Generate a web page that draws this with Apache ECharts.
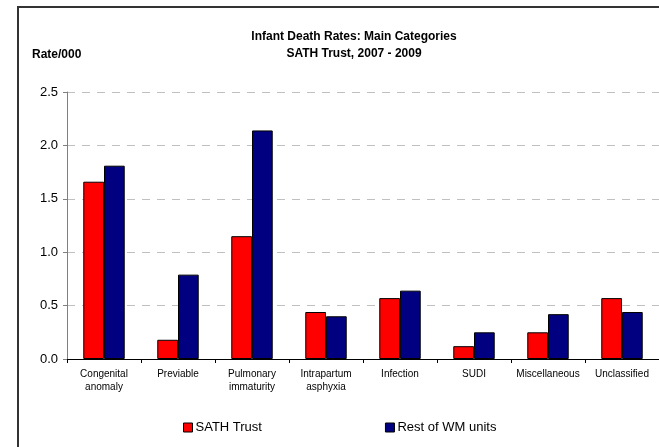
<!DOCTYPE html>
<html>
<head>
<meta charset="utf-8">
<script src="https://cdn.jsdelivr.net/npm/echarts@6/dist/echarts.min.js"></script>
<style>
  html, body { margin: 0; padding: 0; background: #fff; }
  #chart { width: 659px; height: 447px; }
</style>
</head>
<body>
<div id="chart"></div>
<script>
// categories and rates per 1000
var categories = ['Congenital\nanomaly', 'Previable', 'Pulmonary\nimmaturity', 'Intrapartum\nasphyxia',
  'Infection', 'SUDI', 'Miscellaneous', 'Unclassified']
var sathTrust = [1.66, 0.18, 1.15, 0.44, 0.57, 0.12, 0.25, 0.57]
var restOfWm = [1.81, 0.79, 2.14, 0.40, 0.64, 0.25, 0.42, 0.44]
var seriesNames = ['SATH Trust', 'Rest of WM units']

var chart = echarts.init(document.getElementById('chart'))
var font = 'Liberation Sans, Arial, sans-serif'

chart.setOption({
  animation: false,
  backgroundColor: '#fff',
  graphic: [
    {
      type: 'rect',
      z: -1,
      shape: { x: 18, y: 7, width: 700, height: 500 },
      style: { fill: 'none', stroke: '#333', lineWidth: 2 }
    }
  ],
  title: [
    {
      text: 'Infant Death Rates: Main Categories\nSATH Trust, 2007 - 2009',
      left: 349,
      top: 23,
      textAlign: 'center',
      textStyle: { fontFamily: font, fontSize: 12, fontWeight: 'bold', color: '#000', lineHeight: 17 }
    },
    {
      text: 'Rate/000',
      left: 27,
      top: 44,
      textStyle: { fontFamily: font, fontSize: 12, fontWeight: 'bold', color: '#000' }
    }
  ],
  legend: {
    data: seriesNames,
    left: 183,
    top: 421,
    padding: 0,
    itemWidth: 9,
    itemHeight: 9,
    itemGap: 123,
    icon: 'rect',
    itemStyle: { borderColor: '#000', borderWidth: 1 },
    textStyle: { fontFamily: font, fontSize: 13, color: '#000', padding: [0, 0, 0, -2] }
  },
  grid: {
    left: 67,
    top: 92,
    width: 600,
    height: 267
  },
  xAxis: {
    type: 'category',
    data: categories,
    axisLine: { lineStyle: { color: '#000', width: 1 } },
    axisTick: { show: true, length: 4, lineStyle: { color: '#000' } },
    axisLabel: { interval: 0, fontFamily: font, fontSize: 10, lineHeight: 13, color: '#000', margin: 9 }
  },
  yAxis: {
    type: 'value',
    min: 0,
    max: 2.5,
    interval: 0.5,
    axisLine: { show: true, lineStyle: { color: '#808080', width: 1 } },
    axisTick: { show: true, length: 4, lineStyle: { color: '#808080' } },
    axisLabel: {
      fontFamily: font, fontSize: 13, color: '#000', margin: 9,
      formatter: function (v) { return v.toFixed(1) }
    },
    splitLine: { lineStyle: { color: '#c0c0c0', type: [8, 7] } }
  },
  series: [
    {
      name: seriesNames[0],
      type: 'bar',
      data: sathTrust,
      barGap: '0%',
      barCategoryGap: '44%',
      itemStyle: { color: '#ff0000', borderColor: '#000', borderWidth: 1 }
    },
    {
      name: seriesNames[1],
      type: 'bar',
      data: restOfWm,
      itemStyle: { color: '#000080', borderColor: '#000', borderWidth: 1 }
    }
  ]
})
</script>
</body>
</html>
